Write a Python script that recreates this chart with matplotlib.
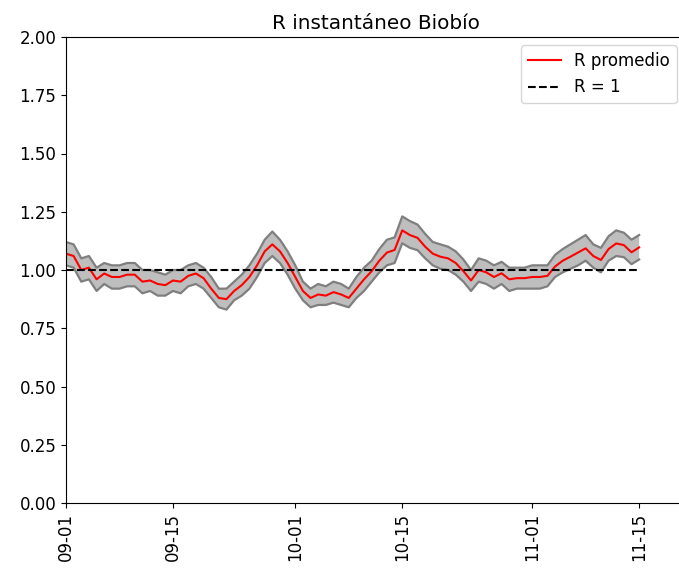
import matplotlib
matplotlib.use("Agg")
import matplotlib.pyplot as plt
import matplotlib.dates as mdates
import numpy as np
import datetime as dt

plt.rcParams["font.size"] = 12

start = dt.date(2020, 9, 1)
r_mean = [1.07, 1.06, 1.00, 1.01, 0.96, 0.985, 0.97, 0.97, 0.98, 0.98,
          0.95, 0.955, 0.94, 0.935, 0.955, 0.95, 0.975, 0.985, 0.965, 0.92,
          0.88, 0.875, 0.91, 0.935, 0.97, 1.02, 1.08, 1.11, 1.08, 1.03,
          0.97, 0.91, 0.88, 0.895, 0.89, 0.905, 0.895, 0.88, 0.92, 0.96,
          0.995, 1.04, 1.075, 1.086, 1.17, 1.15, 1.138, 1.10, 1.07, 1.057,
          1.05, 1.03, 0.995, 0.955, 1.00, 0.99, 0.97, 0.986, 0.96, 0.965,
          0.965, 0.97, 0.97, 0.975, 1.015, 1.04, 1.057, 1.075, 1.093, 1.06,
          1.043, 1.09, 1.114, 1.107, 1.076, 1.097]
r_low = [1.02, 1.01, 0.95, 0.96, 0.91, 0.94, 0.92, 0.92, 0.93, 0.93,
         0.90, 0.91, 0.89, 0.89, 0.91, 0.90, 0.93, 0.94, 0.92, 0.88,
         0.84, 0.83, 0.87, 0.89, 0.92, 0.97, 1.03, 1.06, 1.03, 0.98,
         0.92, 0.87, 0.84, 0.85, 0.85, 0.86, 0.85, 0.84, 0.88, 0.91,
         0.95, 0.99, 1.02, 1.03, 1.115, 1.095, 1.085, 1.05, 1.02, 1.005,
         1.00, 0.98, 0.95, 0.91, 0.95, 0.94, 0.92, 0.94, 0.91, 0.92,
         0.92, 0.92, 0.92, 0.93, 0.97, 0.99, 1.005, 1.02, 1.04, 1.01,
         0.99, 1.04, 1.06, 1.055, 1.025, 1.045]
r_high = [1.12, 1.11, 1.05, 1.06, 1.01, 1.03, 1.02, 1.02, 1.03, 1.03,
          1.00, 1.00, 0.99, 0.98, 1.00, 1.00, 1.02, 1.03, 1.01, 0.97,
          0.92, 0.92, 0.95, 0.98, 1.02, 1.07, 1.13, 1.165, 1.13, 1.08,
          1.02, 0.95, 0.92, 0.94, 0.93, 0.95, 0.94, 0.92, 0.97, 1.01,
          1.04, 1.09, 1.13, 1.14, 1.23, 1.21, 1.195, 1.155, 1.12, 1.11,
          1.10, 1.08, 1.045, 1.00, 1.05, 1.04, 1.02, 1.035, 1.01, 1.01,
          1.01, 1.02, 1.02, 1.02, 1.065, 1.09, 1.11, 1.13, 1.15, 1.11,
          1.095, 1.145, 1.17, 1.16, 1.13, 1.15]
dates = [start + dt.timedelta(days=i) for i in range(len(r_mean))]
tick_dates = [dt.date(2020, 9, 1), dt.date(2020, 9, 15), dt.date(2020, 10, 1),
              dt.date(2020, 10, 15), dt.date(2020, 11, 1), dt.date(2020, 11, 15)]
ref_value = 1.0
title = "R instantáneo Biobío"

fig = plt.figure(figsize=(6.79, 5.73), dpi=100)
ax = fig.add_axes([66/679, 70/573, 619/679, 466/573])

ax.fill_between(dates, r_low, r_high, facecolor="#bebebe", edgecolor="none")
ax.plot(dates, r_low, color="#7f7f7f", lw=1.6)
ax.plot(dates, r_high, color="#7f7f7f", lw=1.6)
ax.plot(dates, r_mean, color="red", lw=1.5, label="R promedio")
ax.plot(dates, [ref_value]*len(dates), color="black", ls="--", lw=1.5, label="R = 1")

ax.set_ylim(0, 2)
ax.set_yticks(np.arange(0, 2.01, 0.25))
ax.yaxis.set_major_formatter(matplotlib.ticker.FormatStrFormatter("%.2f"))
ax.set_xlim(dt.date(2020, 9, 1), dt.date(2020, 9, 1) + dt.timedelta(days=81))
ax.set_xticks(tick_dates)
ax.xaxis.set_major_formatter(mdates.DateFormatter("%m-%d"))
plt.setp(ax.get_xticklabels(), rotation=90)
ax.set_title(title)
ax.legend(loc="upper right")

fig.savefig("out.png", dpi=100)
